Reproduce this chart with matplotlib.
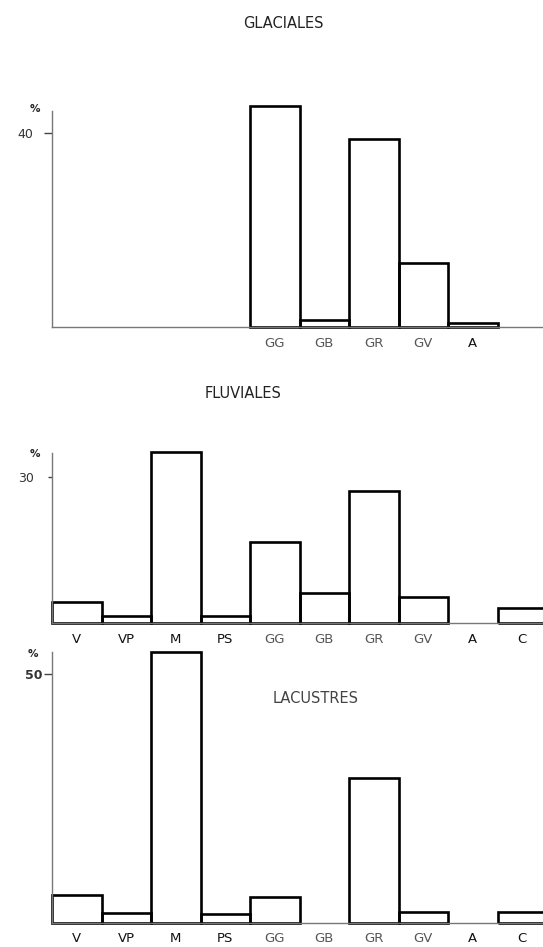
#!/usr/bin/python
import matplotlib.pyplot as plt

OUTPUT_FILE = 'out.png'
W, H = 543, 947

categories = ['V', 'VP', 'M', 'PS', 'GG', 'GB', 'GR', 'GV', 'A', 'C']

# percentages
glaciales = [0, 0, 0, 0, 45.7, 1.6, 38.8, 13.3, 0.8, 0]
fluviales = [4.3, 1.4, 35.0, 1.5, 16.6, 6.2, 27.1, 5.4, 0, 3.1]
lacustres = [5.6, 1.9, 54.4, 1.8, 5.1, 0, 29.1, 2.1, 0, 2.2]

glaciales_labels = ['', '', '', '', 'GG', 'GB', 'GR', 'GV', 'A', '']

titles = ['GLACIALES', 'FLUVIALES', 'LACUSTRES']
yticks = [40, 30, 50]


def px(x, y):
    return x / W, 1 - y / H


def panel(fig, bottom_px, scale, ytop, spine_top, values, labels, ytick,
          tick_len, tick_pad, bold_tick=False):
    ax = fig.add_axes([52 / W, 1 - bottom_px / H, 495 / W, ytop * scale / H])
    x = [i for i, v in enumerate(values) if v > 0]
    h = [v for v in values if v > 0]
    ax.bar(x, h, width=1, align='edge', fill=False, edgecolor='black',
           linewidth=1.9, clip_on=False)
    ax.set_xlim(0, len(values))
    ax.set_ylim(0, ytop)

    for s in ['top', 'right']:
        ax.spines[s].set_visible(False)
    ax.spines['left'].set_bounds(0, spine_top)
    ax.spines['left'].set_color('#777777')
    ax.spines['left'].set_linewidth(1.0)
    ax.spines['bottom'].set_color('#777777')
    ax.spines['bottom'].set_linewidth(1.0)

    ax.set_xticks([i + 0.5 for i in range(len(values))])
    ax.set_xticklabels(labels, fontsize=9.5)
    for lab in ax.get_xticklabels():
        # the G* labels are printed paler in the scan
        lab.set_color('#555555' if lab.get_text().startswith('G') else '#111111')
    ax.tick_params(axis='x', length=0, pad=7)

    ax.set_yticks([ytick])
    ax.set_yticklabels([str(ytick)], fontsize=9, color='#333333',
                       fontweight='bold' if bold_tick else 'normal')
    ax.tick_params(axis='y', length=tick_len, pad=tick_pad, width=1.0,
                   color='#444444')
    return ax


def main():
    fig = plt.figure(figsize=(W / 100, H / 100), dpi=100)

    panel(fig, 327.3, 4.85, 47, 44.7, glaciales, glaciales_labels,
          yticks[0], 5.8, 8)
    panel(fig, 623.3, 4.887, 37, 34.8, fluviales, categories,
          yticks[1], 2.9, 10)
    panel(fig, 922.7, 4.968, 56, 54.5, lacustres, categories,
          yticks[2], 5.8, 1, bold_tick=True)

    fig.text(*px(283, 24), titles[0], fontsize=10.5, color='#222222',
             ha='center', va='center')
    fig.text(*px(243, 394), titles[1], fontsize=10.5, color='#222222',
             ha='center', va='center')
    fig.text(*px(316, 698), titles[2], fontsize=10.5, color='#444444',
             ha='center', va='center')

    for xy in [(35, 109), (35, 454), (33, 654)]:
        fig.text(*px(*xy), '%', fontsize=7.5, fontweight='bold',
                 color='#222222', ha='center', va='center')

    plt.savefig(OUTPUT_FILE, dpi=100)


if __name__ == '__main__':
    main()
